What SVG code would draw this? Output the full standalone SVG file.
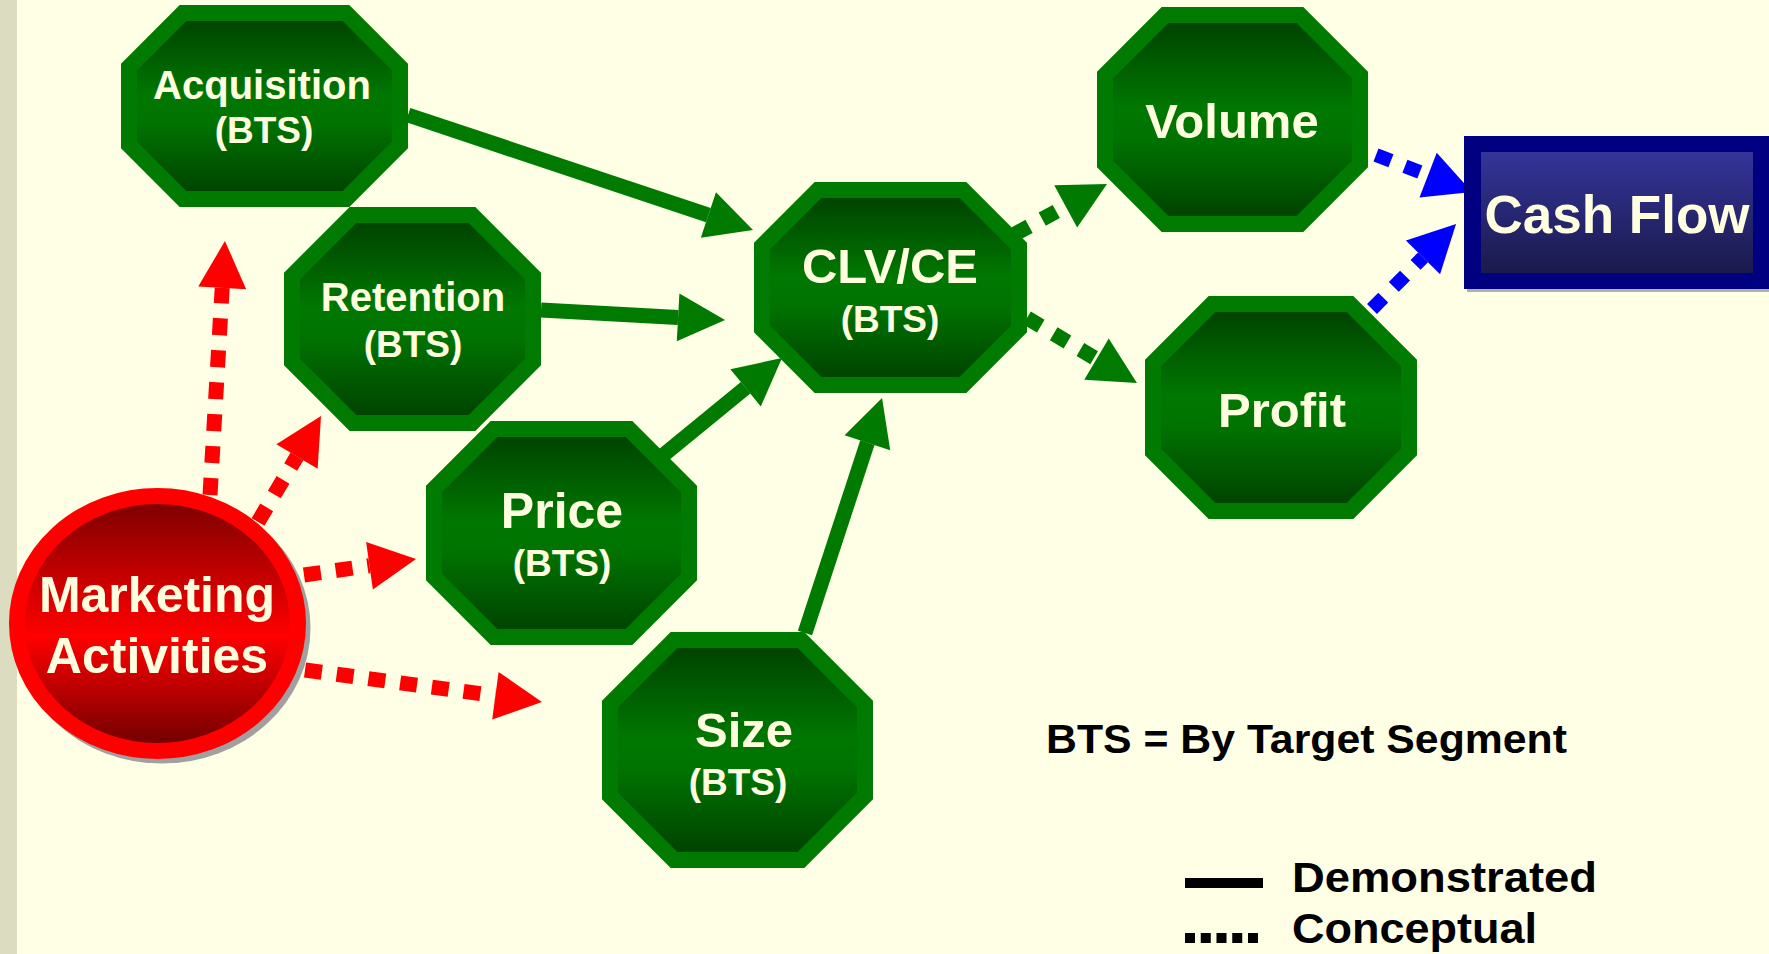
<svg xmlns="http://www.w3.org/2000/svg" width="1769" height="954" viewBox="0 0 1769 954">
<style>
.oct{stroke:#007A00;stroke-width:16;stroke-linejoin:miter;fill:url(#gGreen)}
.t{font-family:"Liberation Sans",Arial,Helvetica,sans-serif;font-weight:bold;fill:#FFFFE0;text-anchor:middle}
.lg{font-family:"Liberation Sans",Arial,Helvetica,sans-serif;font-weight:bold;fill:#000000}
.solid{stroke:#007A00;stroke-width:15;fill:none;marker-end:url(#ahG)}
.gdot{stroke:#007A00;stroke-width:15;fill:none;stroke-dasharray:16 15;marker-end:url(#ahG)}
.bdot{stroke:#0000FF;stroke-width:14;fill:none;stroke-dasharray:16 15;marker-end:url(#ahB)}
.rdot{stroke:#FF0000;stroke-width:15;fill:none;stroke-dasharray:17 15;marker-end:url(#ahR)}
</style>
<defs>
<linearGradient id="gGreen" x1="0" y1="0" x2="0" y2="1">
<stop offset="0" stop-color="#003F00"/>
<stop offset="0.45" stop-color="#007800"/>
<stop offset="0.6" stop-color="#007200"/>
<stop offset="1" stop-color="#003F00"/>
</linearGradient>
<linearGradient id="gRed" x1="0" y1="0" x2="0" y2="1">
<stop offset="0" stop-color="#780000"/>
<stop offset="0.55" stop-color="#FF0000"/>
<stop offset="1" stop-color="#6A0000"/>
</linearGradient>
<linearGradient id="gBlue" x1="0" y1="0" x2="0" y2="1">
<stop offset="0" stop-color="#34349A"/>
<stop offset="1" stop-color="#1A1A4C"/>
</linearGradient>
<marker id="ahG" viewBox="0 -24 47 48" markerWidth="47" markerHeight="48" refX="0" refY="0" orient="auto" markerUnits="userSpaceOnUse" overflow="visible">
<path d="M0,-24 L47,0 L0,24 Z" fill="#007A00"/>
</marker>
<marker id="ahB" viewBox="0 -24 47 48" markerWidth="47" markerHeight="48" refX="0" refY="0" orient="auto" markerUnits="userSpaceOnUse" overflow="visible">
<path d="M0,-24 L47,0 L0,24 Z" fill="#0000FF"/>
</marker>
<marker id="ahR" viewBox="0 -24 47 48" markerWidth="47" markerHeight="48" refX="0" refY="0" orient="auto" markerUnits="userSpaceOnUse" overflow="visible">
<path d="M0,-24 L47,0 L0,24 Z" fill="#FF0000"/>
</marker>
</defs>

<rect x="0" y="0" width="1769" height="954" fill="#FFFFE5"/>
<rect x="0" y="0" width="17" height="954" fill="#DCDCC0"/>

<g id="connectors">
<line class="solid" x1="408" y1="115" x2="708.4" y2="215.1"/>
<line class="solid" x1="541" y1="310" x2="678.1" y2="317.4"/>
<line class="solid" x1="661" y1="457" x2="745.6" y2="387.8"/>
<line class="solid" x1="805" y1="633" x2="867.4" y2="442.7"/>
<line class="gdot" x1="1015" y1="234" x2="1065.7" y2="206.4"/>
<line class="gdot" x1="1027" y1="318" x2="1096.5" y2="359.1"/>
<line class="bdot" x1="1376" y1="155" x2="1428.1" y2="175.1"/>
<line class="bdot" x1="1372" y1="309" x2="1423" y2="257.4"/>
<line class="rdot" x1="210" y1="495" x2="222.2" y2="287.9"/>
<line class="rdot" x1="258" y1="522" x2="297" y2="456.4"/>
<line class="rdot" x1="304" y1="575" x2="369.5" y2="565.7"/>
<line class="rdot" x1="305" y1="670" x2="495.4" y2="695.7"/>
</g>

<g id="acquisition">
<polygon class="oct" points="183,13 346,13 400,67 400,145 346,199 183,199 129,145 129,67"/>
<text class="t" x="262" y="99" font-size="40">Acquisition</text>
<text class="t" x="264" y="143" font-size="37">(BTS)</text>
</g>

<g id="retention">
<polygon class="oct" points="353,215 472,215 533,276 533,362 472,423 353,423 292,362 292,276"/>
<text class="t" x="413" y="311" font-size="40">Retention</text>
<text class="t" x="413" y="357" font-size="37">(BTS)</text>
</g>

<g id="price">
<polygon class="oct" points="494,429 629,429 689,489 689,577 629,637 494,637 434,577 434,489"/>
<text class="t" x="562" y="528" font-size="50">Price</text>
<text class="t" x="562" y="576" font-size="37">(BTS)</text>
</g>

<g id="size">
<polygon class="oct" points="674,640 801,640 865,704 865,796 801,860 674,860 610,796 610,704"/>
<text class="t" x="744" y="747" font-size="49">Size</text>
<text class="t" x="738" y="795" font-size="37">(BTS)</text>
</g>

<g id="clvce">
<polygon class="oct" points="818,190 963,190 1019,246 1019,329 963,385 818,385 762,329 762,246"/>
<text class="t" x="890" y="283" font-size="49">CLV/CE</text>
<text class="t" x="890" y="332" font-size="37">(BTS)</text>
</g>

<g id="volume">
<polygon class="oct" points="1165,15 1300,15 1360,75 1360,164 1300,224 1165,224 1105,164 1105,75"/>
<text class="t" x="1232" y="138" font-size="49">Volume</text>
</g>

<g id="profit">
<polygon class="oct" points="1212,304 1350,304 1409,363 1409,452 1350,511 1212,511 1153,452 1153,363"/>
<text class="t" x="1282" y="427" font-size="49">Profit</text>
</g>

<g id="cashflow">
<rect x="1467" y="139" width="305" height="153" fill="#B0B0B0"/>
<rect x="1464" y="136" width="305" height="153" fill="#000080"/>
<rect x="1481" y="152" width="272" height="121" fill="url(#gBlue)"/>
<text class="t" x="1617" y="233" font-size="53">Cash Flow</text>
</g>

<g id="marketing">
<ellipse cx="162" cy="628" rx="148.5" ry="135.5" fill="#A0A0A0"/>
<ellipse cx="157.5" cy="623.5" rx="140.5" ry="127.5" fill="url(#gRed)" stroke="#FF0000" stroke-width="16"/>
<text class="t" x="157" y="612" font-size="50">Marketing</text>
<text class="t" x="157" y="673" font-size="50">Activities</text>
</g>

<g id="legend">
<text class="lg" x="1046" y="753" font-size="41" textLength="521" lengthAdjust="spacingAndGlyphs">BTS = By Target Segment</text>
<line x1="1185" y1="883" x2="1263" y2="883" stroke="#000000" stroke-width="10"/>
<text class="lg" x="1292" y="892" font-size="42" textLength="305" lengthAdjust="spacingAndGlyphs">Demonstrated</text>
<line x1="1185" y1="938" x2="1258" y2="938" stroke="#000000" stroke-width="10" stroke-dasharray="10 5.75"/>
<text class="lg" x="1292" y="943" font-size="42" textLength="245" lengthAdjust="spacingAndGlyphs">Conceptual</text>
</g>
</svg>
